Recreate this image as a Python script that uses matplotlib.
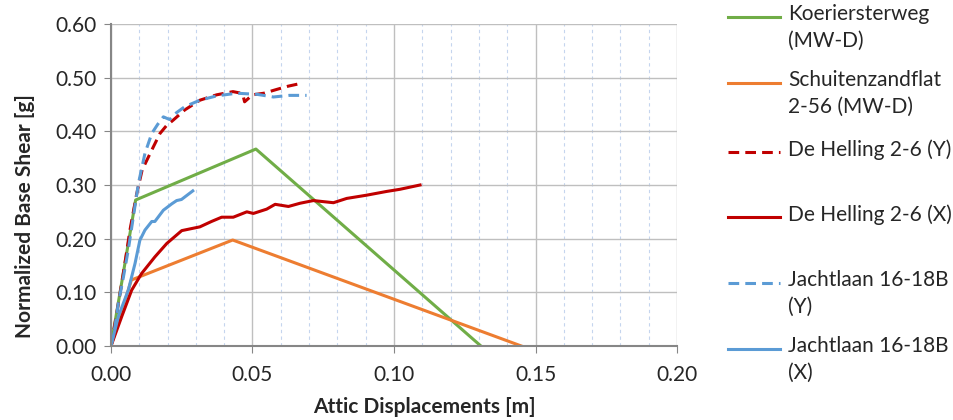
import matplotlib.pyplot as plt
from matplotlib.lines import Line2D
from matplotlib.ticker import MultipleLocator

plt.rcParams["font.family"] = ["Lato", "DejaVu Sans"]

# pushover curves: attic displacement [m] vs normalized base shear [g]
koer_x = [0, 0.0087, 0.0512, 0.1307]
koer_y = [0, 0.272, 0.367, 0]

schu_x = [0, 0.0072, 0.043, 0.145]
schu_y = [0, 0.123, 0.1975, 0]

helY_x = [0, 0.002, 0.0045, 0.0067, 0.0091, 0.0110, 0.0144, 0.0173, 0.0195, 0.022,
          0.0261, 0.0314, 0.0373, 0.0431, 0.046, 0.0467, 0.0472, 0.050, 0.054,
          0.0585, 0.0625, 0.0668]
helY_y = [0, 0.06, 0.14, 0.216, 0.284, 0.328, 0.365, 0.396, 0.41, 0.421,
          0.44, 0.458, 0.468, 0.474, 0.471, 0.466, 0.455, 0.468, 0.471,
          0.478, 0.484, 0.489]

helX_x = [0, 0.0038, 0.0073, 0.0108, 0.0155, 0.0197, 0.025, 0.0314, 0.0355, 0.0391,
          0.0432, 0.048, 0.0503, 0.055, 0.058, 0.0627, 0.0668, 0.0715, 0.0786,
          0.0833, 0.0903, 0.0974, 0.1021, 0.1092]
helX_y = [0, 0.055, 0.104, 0.135, 0.166, 0.191, 0.215, 0.222, 0.232, 0.24,
          0.24, 0.25, 0.247, 0.255, 0.264, 0.26, 0.266, 0.271, 0.267,
          0.275, 0.281, 0.288, 0.292, 0.30]

jacY_x = [0, 0.0014, 0.0026, 0.0044, 0.0061, 0.0079, 0.0097, 0.012, 0.0144, 0.0165,
          0.0185, 0.0207, 0.0232, 0.0261, 0.0314, 0.0373, 0.0444, 0.0515, 0.0574,
          0.0630, 0.0691]
jacY_y = [0, 0.036, 0.08, 0.129, 0.179, 0.241, 0.303, 0.359, 0.396, 0.413,
          0.427, 0.422, 0.435, 0.446, 0.458, 0.466, 0.471, 0.469, 0.464,
          0.467, 0.467]

jacX_x = [0, 0.0026, 0.0061, 0.0085, 0.0102, 0.012, 0.0144, 0.0155, 0.0185, 0.0215,
          0.0232, 0.0249, 0.0289]
jacX_y = [0, 0.055, 0.104, 0.154, 0.197, 0.216, 0.232, 0.232, 0.253, 0.265,
          0.271, 0.273, 0.289]

labels = ["Koeriersterweg\n(MW-D)", "Schuitenzandflat\n2-56 (MW-D)", "De Helling 2-6 (Y)",
          "De Helling 2-6 (X)", "Jachtlaan 16-18B\n(Y)", "Jachtlaan 16-18B\n(X)"]

W, H = 954, 420
fig = plt.figure(figsize=(W / 100, H / 100), dpi=100)
ax = fig.add_axes([111 / W, 74 / H, 566 / W, 322 / H])

dash = (3.5, 2.0)
lw = 2.2
lines = []
lines += ax.plot(koer_x, koer_y, color="#70AD47", lw=lw)
lines += ax.plot(schu_x, schu_y, color="#ED7D31", lw=lw)
lines += ax.plot(helY_x, helY_y, color="#C00000", lw=lw, dashes=dash)
lines += ax.plot(helX_x, helX_y, color="#C00000", lw=lw)
lines += ax.plot(jacY_x, jacY_y, color="#5B9BD5", lw=lw, dashes=dash)
lines += ax.plot(jacX_x, jacX_y, color="#5B9BD5", lw=lw)

ax.set_xlim(0, 0.20)
ax.set_ylim(0, 0.60)
ax.xaxis.set_major_locator(MultipleLocator(0.05))
ax.xaxis.set_minor_locator(MultipleLocator(0.01))
ax.yaxis.set_major_locator(MultipleLocator(0.10))
ax.xaxis.set_major_formatter(lambda v, p: f"{v:.2f}")
ax.yaxis.set_major_formatter(lambda v, p: f"{v:.2f}")

ax.grid(which="major", axis="both", color="#BFBFBF", lw=1.0)
ax.grid(which="minor", axis="x", color="#C5D5EE", lw=0.8, ls=(0, (3, 3)))
ax.set_axisbelow(True)

for s in ["top", "right"]:
    ax.spines[s].set_visible(False)
ax.spines["left"].set_color("#868686")
ax.spines["bottom"].set_color("#868686")
ax.spines["left"].set_linewidth(1.5)
ax.spines["bottom"].set_linewidth(1.5)
ax.tick_params(which="major", length=5, color="#868686", labelsize=15,
               labelcolor="#262626")
ax.tick_params(axis="x", pad=9)
ax.tick_params(axis="y", pad=5)
ax.tick_params(which="minor", length=0)

ax.set_xlabel("Attic Displacements [m]", fontsize=15, fontweight="bold",
              color="#262626")
ax.set_ylabel("Normalized Base Shear [g]", fontsize=15, fontweight="bold",
              color="#262626")
ax.xaxis.set_label_coords((424 - 111) / 566, -(407 - 346) / 322)
ax.yaxis.set_label_coords(-(111 - 25) / 566, (346 - 216) / 322)
ax.xaxis.label.set_va("center")
ax.yaxis.label.set_va("center")

# legend drawn by hand so the key lines up with the first text line
rows = [17, 83, 152, 217, 283, 349]
for ln, lab, yy in zip(lines, labels, rows):
    fy = 1 - yy / H
    fig.add_artist(Line2D([728 / W, 780 / W], [fy, fy], color=ln.get_color(),
                          lw=lw, dashes=dash if ln.get_linestyle() == "--" else (None, None),
                          transform=fig.transFigure))
    fig.text(788 / W, 1 - (yy - 13) / H, lab, fontsize=15, color="#262626",
             va="top", ha="left", linespacing=1.4)

fig.savefig("out.png", dpi=100)
